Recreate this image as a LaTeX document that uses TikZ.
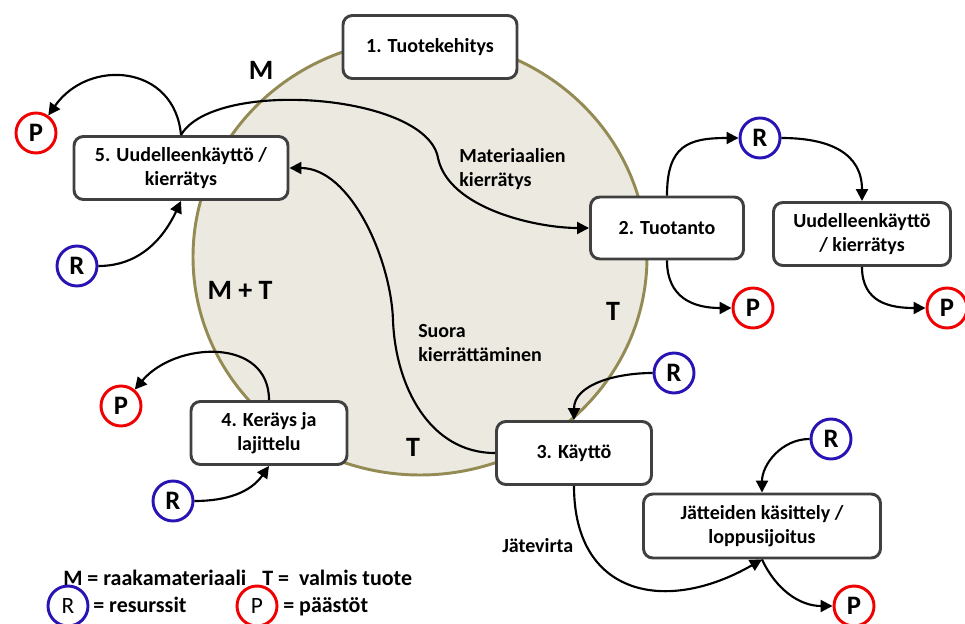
\documentclass[tikz,border=0pt]{standalone}
\usepackage{fontspec}
\setmainfont{Carlito}
\usetikzlibrary{arrows.meta}
\definecolor{ringline}{RGB}{148,138,84}
\definecolor{ringfill}{RGB}{236,234,224}
\definecolor{boxline}{RGB}{64,64,64}
\definecolor{resblue}{RGB}{40,20,180}
\definecolor{emired}{RGB}{240,0,0}
\begin{document}
\begin{tikzpicture}[x=0.75pt,y=0.75pt,
  box/.style={draw=boxline,line width=2.2pt,rounded corners=7pt,fill=white,align=center,inner sep=2pt,font=\bfseries\fontsize{15}{18}\selectfont},
  res/.style={draw=resblue,circle,line width=2.2pt,fill=white,minimum size=30pt,inner sep=0pt,font=\bfseries\fontsize{20}{20}\selectfont},
  emi/.style={res,draw=emired},
  big/.style={inner sep=0pt,font=\bfseries\fontsize{21}{21}\selectfont},
  lbl/.style={align=left,inner sep=0pt,font=\bfseries\fontsize{15}{18.5}\selectfont},
  leg/.style={inner sep=0pt,font=\bfseries\fontsize{16.5}{18}\selectfont},
  arr/.style={line width=1.6pt,-{Triangle[length=9pt,width=9pt]}}]

      \useasboundingbox (0,0) rectangle (965,-624);
      \draw[ringline,fill=ringfill,line width=2.2pt] (420,-257) ellipse [x radius=227,y radius=218];

      % phases
      \node[box,minimum width=130.5pt,minimum height=47.25pt] (b1) at (430,-47) {1. Tuotekehitys};
      \node[box,minimum width=114.75pt,minimum height=46.5pt] (b2) at (667,-228) {2. Tuotanto};
      \node[box,minimum width=116.25pt,minimum height=47.25pt] (b3) at (574,-453) {3. Käyttö};
      \node[box,minimum width=117pt,minimum height=47.25pt] (b4) at (269,-433) {4. Keräys ja\\lajittelu};
      \node[box,minimum width=160.5pt,minimum height=47.25pt] (b5) at (181,-168) {5. Uudelleenkäyttö /\\kierrätys};
      \node[box,minimum width=132.75pt,minimum height=47.25pt] (rb) at (862,-234) {Uudelleenkäyttö\\/ kierrätys};
      \node[box,minimum width=177.75pt,minimum height=48pt] (jb) at (762,-526) {Jätteiden käsittely /\\loppusijoitus};

      % resources and emissions
      \node[res] (r2) at (760,-138) {R};
      \node[res] (r3) at (674,-373) {R};
      \node[res] (r4) at (831,-439) {R};
      \node[res] (r5) at (77,-266) {R};
      \node[res] (r6) at (173,-501) {R};
      \node[emi] (p2) at (753,-308) {P};
      \node[emi] (p3) at (947,-308) {P};
      \node[emi] (p4) at (854,-606) {P};
      \node[emi] (p5) at (36,-133) {P};
      \node[emi] (p6) at (121,-406) {P};

      % labels
      \node[big] (m1) at (261,-70) {M};
      \node[big] (mt) at (240,-290) {M + T};
      \node[big] (t1) at (613,-311) {T};
      \node[big] (t2) at (413,-447) {T};
      \node[lbl,anchor=base west] (mat) at (459,-187) {Materiaalien\\kierrätys};
      \node[lbl,anchor=base west] (suo) at (418,-362) {Suora\\kierrättäminen};
      \node[lbl,anchor=base west] (jat) at (502,-552) {Jätevirta};

      \coordinate (mk) at (438,-158);
      \coordinate (sk) at (393,-320);

      \draw[arr] (b5.north) to[out=95,in=55,looseness=1.35] (p5);
      \draw[arr] (b5.north) to[out=60,in=100,looseness=0.65] (mk) to[out=-78,in=180,looseness=0.8] (b2.west);
      \draw[arr] (b3.west) to[out=180,in=-88] (sk) to[out=92,in=0,looseness=0.85] (b5.east);
      \draw[arr] (r5) to[out=0,in=-115] (b5.south);
      \draw[arr] (b2.north) to[out=90,in=180,looseness=1.4] (r2);
      \draw[arr] (r2) to[out=0,in=90,looseness=1.2] (rb.north);
      \draw[arr] (b2.south) to[out=-90,in=180,looseness=1.2] (p2);
      \draw[arr] (rb.south) to[out=-90,in=180,looseness=1.2] (p3);
      \draw[arr] (r3) to[out=180,in=90] (b3.north);
      \draw[arr] (b3.south) to[out=-90,in=-150,looseness=1.4] (jb.south);
      \draw[arr] (r4) to[out=180,in=90] (jb.north);
      \draw[arr] (jb.south) to[out=-65,in=180] (p4);
      \draw[arr] (b4.north) to[out=90,in=50,looseness=1.2] (p6);
      \draw[arr] (r6) to[out=0,in=-125] (b4.south);

      % legend
      \node[leg,anchor=base west] (lm) at (63,-585) {M = raakamateriaali};
      \node[leg,anchor=base west] (lt) at (262,-585) {T =\ \ valmis tuote};
      \node[res,font=\fontsize{17.5}{17.5}\selectfont] (lr) at (68,-606) {R};
      \node[emi,font=\fontsize{17.5}{17.5}\selectfont] (lp) at (257,-606) {P};
      \node[leg,anchor=base west] (lrt) at (93,-612) {= resurssit};
      \node[leg,anchor=base west] (lpt) at (283,-612) {= päästöt};

    \end{tikzpicture}
\end{document}
